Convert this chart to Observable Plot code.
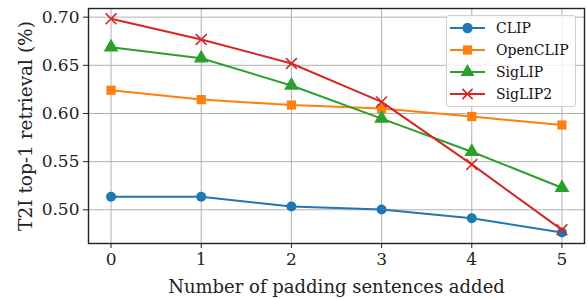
<!DOCTYPE html>
<html>
<head>
<meta charset="utf-8">
<script src="https://cdn.jsdelivr.net/npm/d3@7"></script>
<script src="https://cdn.jsdelivr.net/npm/@observablehq/plot@0.6"></script>
<style>
  body { margin: 0; background: #fff; }
  #wrap { position: relative; width: 588px; height: 299px; font-family: "DejaVu Serif", serif; }
  #wrap svg, #wrap svg text { font-family: "DejaVu Serif", serif !important; }
  #legend { position: absolute; left: 446px; top: 15px; width: 130px; height: 92px; box-sizing: border-box;
    border: 1px solid #d0d0d0; border-radius: 3px; background: rgba(255,255,255,0.8); font-size: 14px; }
  .row { position: absolute; left: 0; height: 22px; display: flex; align-items: center; }
  .row svg { margin-left: 3px; }
  .row span { margin-left: 11px; color: #111; }
</style>
</head>
<body>
<div id="wrap"></div>
<script>
const padding = [0, 1, 2, 3, 4, 5];
const models = ["CLIP", "OpenCLIP", "SigLIP", "SigLIP2"];
const colors = ["#1f77b4", "#ff7f0e", "#2ca02c", "#d62728"];
const symbols = ["circle", "square", "triangle", "times"];
const clip = [0.5135, 0.5136, 0.5034, 0.5003, 0.4913, 0.4764];
const openclip = [0.6241, 0.6144, 0.6088, 0.6051, 0.5968, 0.5880];
const siglip = [0.6688, 0.6574, 0.6290, 0.5947, 0.5603, 0.5229];
const siglip2 = [0.6983, 0.6768, 0.6519, 0.6120, 0.5471, 0.4792];
const yTicks = [0.50, 0.55, 0.60, 0.65, 0.70];
const xLabel = "Number of padding sentences added";
const yLabel = "T2I top-1 retrieval (%)";

const series = [clip, openclip, siglip, siglip2];
const data = [];
series.forEach((vals, i) => vals.forEach((v, j) => data.push({model: models[i], x: padding[j], y: v})));

const FF = "DejaVu Serif";
const marks = [
  Plot.gridX(padding, {stroke: "#b0b0b0", strokeOpacity: 1, strokeWidth: 1}),
  Plot.gridY(yTicks, {stroke: "#b0b0b0", strokeOpacity: 1, strokeWidth: 1}),
  Plot.axisX(padding, {tickSize: 5, tickPadding: 4, fontSize: 17, fontFamily: FF, tickFormat: d => String(d), label: null}),
  Plot.axisY(yTicks, {tickSize: 5, tickPadding: 4, fontSize: 17, fontFamily: FF, tickFormat: d => d.toFixed(2), label: null}),
  Plot.text([xLabel], {frameAnchor: "bottom", dy: 49, fontSize: 18, fontFamily: FF, text: d => d}),
  Plot.text([yLabel], {frameAnchor: "left", textAnchor: "middle", dx: -62, rotate: -90, fontSize: 18.5, fontFamily: FF, text: d => d}),
];
models.forEach((m, i) => {
  const sub = data.filter(d => d.model === m);
  marks.push(Plot.line(sub, {x: "x", y: "y", stroke: colors[i], strokeWidth: 2}));
  if (symbols[i] === "times") {
    marks.push(Plot.dot(sub, {x: "x", y: "y", symbol: "times", r: 5, stroke: colors[i], strokeWidth: 1.6}));
  } else {
    const r = symbols[i] === "square" ? 5.2 : symbols[i] === "triangle" ? 5.5 : 5;
    marks.push(Plot.dot(sub, {x: "x", y: "y", symbol: symbols[i], r, fill: colors[i], stroke: "none"}));
  }
});
marks.push(Plot.frame({stroke: "#222", strokeWidth: 1.4}));

const chart = Plot.plot({
  width: 588, height: 299,
  marginLeft: 88, marginRight: 4, marginTop: 8, marginBottom: 56,
  style: "font-family: 'DejaVu Serif', serif; color: #222; background: white;",
  x: {domain: [-0.25, 5.25]},
  y: {domain: [0.465, 0.709]},
  marks
});
const wrap = document.getElementById("wrap");
wrap.appendChild(chart);

const legend = document.createElement("div");
legend.id = "legend";
models.forEach((m, i) => {
  const row = document.createElement("div");
  row.className = "row";
  row.style.top = (1 + i * 22) + "px";
  const ns = "http://www.w3.org/2000/svg";
  const svg = document.createElementNS(ns, "svg");
  svg.setAttribute("width", 35); svg.setAttribute("height", 20);
  const line = document.createElementNS(ns, "line");
  line.setAttribute("x1", 0); line.setAttribute("x2", 35); line.setAttribute("y1", 10); line.setAttribute("y2", 10);
  line.setAttribute("stroke", colors[i]); line.setAttribute("stroke-width", 2);
  svg.appendChild(line);
  const sym = d3.symbol().type(symbols[i] === "circle" ? d3.symbolCircle : symbols[i] === "square" ? d3.symbolSquare : symbols[i] === "triangle" ? d3.symbolTriangle : d3.symbolTimes).size(symbols[i] === "times" ? 70 : 85)();
  const p = document.createElementNS(ns, "path");
  p.setAttribute("d", sym); p.setAttribute("transform", "translate(17.5,10)");
  if (symbols[i] === "times") { p.setAttribute("fill", "none"); p.setAttribute("stroke", colors[i]); p.setAttribute("stroke-width", 1.6); }
  else p.setAttribute("fill", colors[i]);
  svg.appendChild(p);
  row.appendChild(svg);
  const span = document.createElement("span");
  span.textContent = m;
  row.appendChild(span);
  legend.appendChild(row);
});
wrap.appendChild(legend);
</script>
</body>
</html>
